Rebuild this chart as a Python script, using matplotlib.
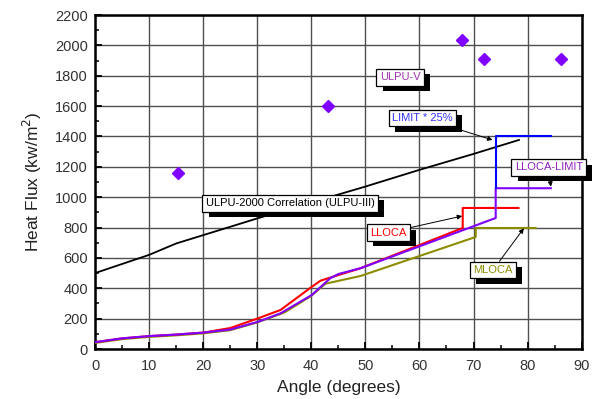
import matplotlib
matplotlib.use("Agg")
import matplotlib.pyplot as plt
import matplotlib.patheffects as pe
from matplotlib.ticker import MultipleLocator

plt.rcParams['font.family'] = ['Liberation Sans', 'DejaVu Sans']

# ULPU-2000 correlation (ULPU-III)
ulpu3_x = [0, 5, 10, 15, 20, 30, 40, 50, 60, 70, 78.4]
ulpu3_y = [500, 560, 620, 695, 750, 860, 965, 1070, 1180, 1285, 1377]

# ULPU-V points
ulpu5_x = [15.4, 43.1, 67.9, 72.0, 86.1]
ulpu5_y = [1157, 1603, 2035, 1908, 1908]

# LLOCA
lloca_x = [0, 5, 10, 15, 20, 25, 30, 34.3, 40.1, 41.7, 45, 49.1, 68, 68, 78.3]
lloca_y = [45, 70, 85, 95, 108, 138, 200, 257, 410, 450, 487, 532, 797, 929, 929]

# LLOCA-LIMIT
llim_x = [0, 5, 10, 15, 20, 25, 30.2, 34.3, 40.1, 43.5, 45, 49.1, 74.1, 74.1, 84.3]
llim_y = [45, 70, 85, 95, 108, 128, 180, 235, 356, 466, 494, 532, 863, 1059, 1059]

# LIMIT * 25%
lim25_x = [74.1, 74.1, 84.3]
lim25_y = [1059, 1403, 1403]

# MLOCA
mloca_x = [0, 5, 10, 15, 20, 25, 30, 35, 40, 42.6, 49.1, 70.4, 70.4, 81.5]
mloca_y = [40, 65, 80, 90, 103, 124, 175, 240, 350, 430, 481, 738, 797, 797]

xticks = list(range(0, 91, 10))
yticks = list(range(0, 2201, 200))

fig = plt.figure(figsize=(5.95, 3.99), dpi=100)
ax = fig.add_axes([0.1597, 0.1253, 0.8179, 0.8371])

ax.plot(ulpu3_x, ulpu3_y, color='black', lw=1.3, zorder=3)
ax.plot(lloca_x, lloca_y, color='#FF0000', lw=1.5, zorder=4)
ax.plot(mloca_x, mloca_y, color='#8C8C00', lw=1.5, zorder=3)
ax.plot(llim_x, llim_y, color='#8000FF', lw=1.5, zorder=5)
ax.plot(lim25_x, lim25_y, color='#0000FF', lw=1.5, zorder=5)
ax.plot(ulpu5_x, ulpu5_y, linestyle='none', marker='D', markersize=6,
        color='#8000FF', zorder=6)

ax.set_xlim(0, 90)
ax.set_ylim(0, 2200)
ax.set_xticks(xticks)
ax.set_yticks(yticks)
ax.xaxis.set_minor_locator(MultipleLocator(5))
ax.yaxis.set_minor_locator(MultipleLocator(100))
ax.tick_params(which='major', direction='in', length=5, width=1.3, labelsize=10.5,
               top=False, right=False, labelcolor='#333333')
ax.tick_params(which='minor', direction='in', length=3, width=1.1, top=False, right=False)
ax.tick_params(axis='x', pad=7)
ax.tick_params(axis='y', pad=5)
ax.grid(True, which='major', color='#505050', lw=1.0, linestyle='-')
for s in ax.spines.values():
    s.set_linewidth(1.8)

ax.set_xlabel('Angle (degrees)', fontsize=12.5, labelpad=5, color='#222222')
ax.set_ylabel('Heat Flux (kw/m$^2$)', fontsize=12.5, labelpad=8, color='#222222')

shadow = [pe.SimplePatchShadow(offset=(4.5, -4.0), shadow_rgbFace='black', alpha=1.0),
          pe.Normal()]
bbox = dict(boxstyle='square,pad=0.3', fc='white', ec='black', lw=0.9)
arrow = dict(arrowstyle='-|>', color='black', lw=0.7, mutation_scale=7, shrinkA=0, shrinkB=0)

def label(text, color, xytext, xy=None):
    if xy is None:
        t = ax.text(xytext[0], xytext[1], text, color=color, fontsize=8,
                    ha='center', va='center', bbox=bbox, zorder=10)
    else:
        t = ax.annotate(text, xy=xy, xytext=xytext, color=color, fontsize=8,
                        ha='center', va='center', bbox=bbox, arrowprops=arrow,
                        zorder=10)
    t.get_bbox_patch().set_path_effects(shadow)
    return t

label('ULPU-V', '#A033B0', (56.4, 1790))
label('LIMIT * 25%', '#3333FF', (60.5, 1522), (73.5, 1377))
label('LLOCA-LIMIT', '#9020C0', (83.9, 1196), (84.3, 1069))
label('ULPU-2000 Correlation (ULPU-III)', 'black', (36.1, 960))
label('LLOCA', '#FF0000', (54.2, 767), (67.9, 876))
label('MLOCA', '#8C8C00', (73.6, 520), (79.3, 795))

fig.savefig('out.png', dpi=100)
